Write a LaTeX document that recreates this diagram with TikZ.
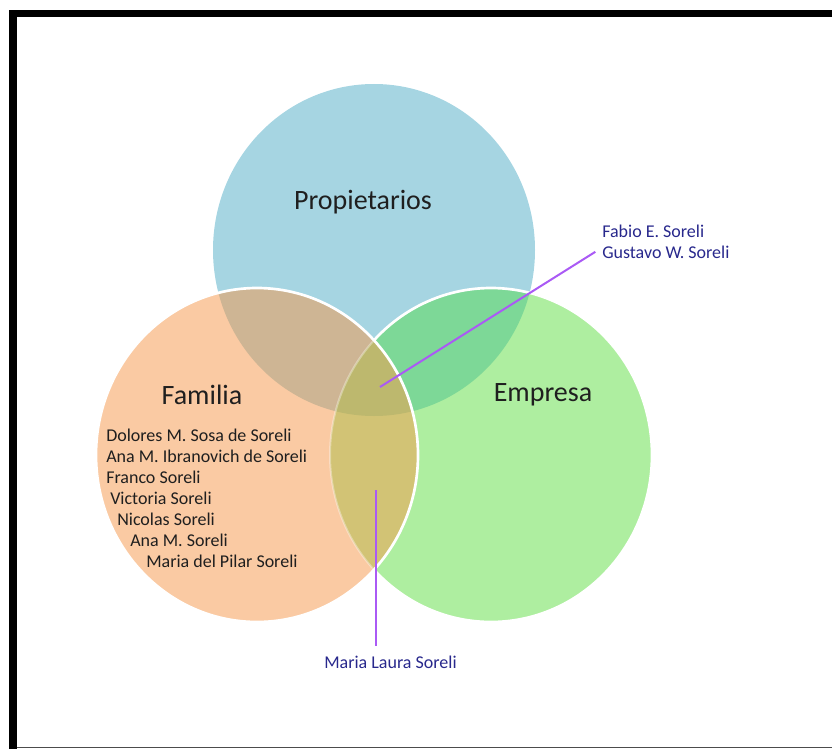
\documentclass[tikz,border=0pt]{standalone}
\usepackage{fontspec}
\setmainfont{Carlito}
\usepackage{tikz}
\usetikzlibrary{positioning}

\definecolor{propblue}{RGB}{166,213,226}
\definecolor{famorange}{RGB}{250,202,163}
\definecolor{empgreen}{RGB}{174,238,160}
\definecolor{propfam}{RGB}{206,181,148}
\definecolor{propemp}{RGB}{125,216,151}
\definecolor{famemp}{RGB}{210,195,117}
\definecolor{allthree}{RGB}{189,184,110}
\definecolor{navyname}{RGB}{40,40,140}
\definecolor{linkviolet}{RGB}{170,90,245}

% the three sets (pixel units)
\def\setprop{(374,250) ellipse [x radius=161, y radius=166]}
\def\setfam{(257,455) ellipse [x radius=161, y radius=167]}
\def\setemp{(491,455) ellipse [x radius=161, y radius=167]}

\begin{document}
\begin{tikzpicture}[x=0.75pt, y=-0.75pt,
		settitle/.style={font=\fontsize{21}{25}\selectfont, text=black!88, inner sep=0pt, anchor=base},
		member/.style={font=\fontsize{13.5}{16}\selectfont, text=black!88, inner sep=0pt, anchor=base west},
		bluename/.style={member, text=navyname},
		link/.style={draw=linkviolet, line width=1.5pt}]
		\useasboundingbox (0,0) rectangle (832,749);
		% Frame
		\fill[black] (9,10) rectangle (832,17);
		\fill[black] (9,10) rectangle (17,749);
		\draw[black!70, line width=1.2pt] (17,747.5) -- (832,747.5);

		% Sets
		\fill[propblue] \setprop;
		\fill[empgreen] \setemp;
		\begin{scope}
			\clip \setprop;
			\fill[propemp] \setemp;
		\end{scope}
		\draw[white, line width=2pt] \setemp;
		\fill[famorange] \setfam;
		\begin{scope}
			\clip \setfam;
			\fill[propfam] \setprop;
			\fill[famemp] \setemp;
			\clip \setprop;
			\fill[allthree] \setemp;
		\end{scope}
		\begin{scope}
			\clip \setfam;
			\draw[white, opacity=0.35, line width=1.5pt] \setemp;
		\end{scope}
		\draw[white, line width=2pt] \setfam;

		% Set names
		\node[settitle] (propietarios) at (363,209) {Propietarios};
		\node[settitle] (familia) at (202,404) {Familia};
		\node[settitle] (empresa) at (543,401) {Empresa};

		% Family members
		\node[member] (dolores) at (106,441) {Dolores M. Sosa de Soreli};
		\node[member] (anaib) at (106,462) {Ana M. Ibranovich de Soreli};
		\node[member] (franco) at (106,483) {Franco Soreli};
		\node[member] (victoria) at (110,504) {Victoria Soreli};
		\node[member] (nicolas) at (117,525) {Nicolas Soreli};
		\node[member] (anams) at (130,546) {Ana M. Soreli};
		\node[member] (pilar) at (146,567) {Maria del Pilar Soreli};

		% Owners in the family and the company
		\node[bluename] (fabio) at (602,237) {Fabio E. Soreli};
		\node[bluename] (gustavo) at (602,258) {Gustavo W. Soreli};
		\coordinate (pcenter) at (380,387);
		\draw[link] (pcenter) -- ([xshift=-5pt]gustavo.west);

		% Family in the company
		\node[bluename] (laura) at (324,668) {Maria Laura Soreli};
		\coordinate (pfamemp) at (376,490);
		\draw[link] (pfamemp) -- ([yshift=7pt]pfamemp |- laura.north);
	\end{tikzpicture}
\end{document}
